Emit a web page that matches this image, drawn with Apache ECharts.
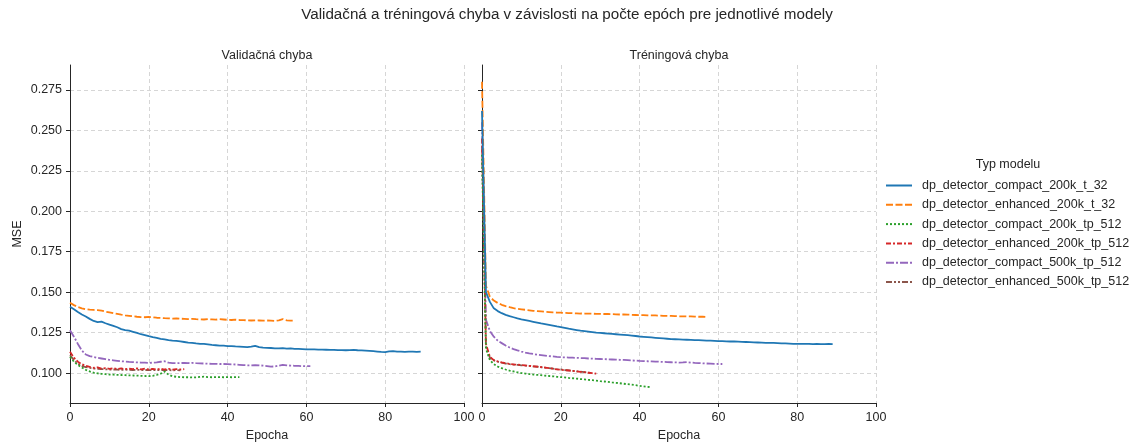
<!DOCTYPE html>
<html>
<head>
<meta charset="utf-8">
<script src="https://cdn.jsdelivr.net/npm/echarts@6/dist/echarts.min.js"></script>
<style>
html,body{margin:0;padding:0;background:#fff;}
#chart{width:1135px;height:443px;}
</style>
</head>
<body>
<div id="chart"></div>
<script>
// ---------- DATA ----------
const seriesNames = [
  'dp_detector_compact_200k_t_32',
  'dp_detector_enhanced_200k_t_32',
  'dp_detector_compact_200k_tp_512',
  'dp_detector_enhanced_200k_tp_512',
  'dp_detector_compact_500k_tp_512',
  'dp_detector_enhanced_500k_tp_512'
];
const panelTitles = ['Validačná chyba', 'Tréningová chyba'];
const mainTitle = 'Validačná a tréningová chyba v závislosti na počte epóch pre jednotlivé modely';
const xTicks = [0, 20, 40, 60, 80, 100];
const yTicks = [0.100, 0.125, 0.150, 0.175, 0.200, 0.225, 0.250, 0.275];

// Validation error (one value per epoch, starting at epoch 0)
const valCompact200kT32 = [
  0.1410,0.1395,0.1378,0.1362,0.1350,0.1335,0.1322,0.1315,0.1318,0.1308,
  0.1300,0.1292,0.1283,0.1272,0.1265,0.1262,0.1255,0.1248,0.1240,0.1235,
  0.1228,0.1222,0.1218,0.1212,0.1208,0.1203,0.1200,0.1199,0.1196,0.1192,
  0.1188,0.1186,0.1183,0.1181,0.1180,0.1177,0.1174,0.1172,0.1170,0.1169,
  0.1167,0.1167,0.1165,0.1164,0.1162,0.1160,0.1163,0.1168,0.1160,0.1157,
  0.1156,0.1155,0.1153,0.1152,0.1154,0.1151,0.1153,0.1150,0.1149,0.1148,
  0.1147,0.1146,0.1146,0.1145,0.1145,0.1144,0.1143,0.1143,0.1142,0.1142,
  0.1141,0.1142,0.1143,0.1141,0.1140,0.1139,0.1137,0.1135,0.1133,0.1131,
  0.1130,0.1134,0.1135,0.1132,0.1133,0.1131,0.1132,0.1132,0.1131,0.1132
];
const valEnhanced200kT32 = [
  0.1435,0.1420,0.1408,0.1400,0.1395,0.1392,0.1390,0.1389,0.1386,0.1380,
  0.1375,0.1370,0.1366,0.1361,0.1357,0.1354,0.1351,0.1348,0.1346,0.1345,
  0.1347,0.1345,0.1342,0.1341,0.1339,0.1338,0.1337,0.1338,0.1336,0.1335,
  0.1334,0.1335,0.1333,0.1332,0.1331,0.1333,0.1332,0.1330,0.1333,0.1331,
  0.1329,0.1328,0.1330,0.1328,0.1327,0.1326,0.1325,0.1326,0.1325,0.1324,
  0.1325,0.1324,0.1323,0.1326,0.1334,0.1326,0.1324,0.1324
];
const valCompact200kTp512 = [
  0.1100,0.1070,0.1050,0.1035,0.1020,0.1010,0.1003,0.0998,0.0995,0.0993,
  0.0991,0.0990,0.0989,0.0988,0.0987,0.0986,0.0985,0.0984,0.0983,0.0982,
  0.0981,0.0983,0.0988,0.0996,0.1010,0.0990,0.0980,0.0977,0.0975,0.0974,
  0.0974,0.0973,0.0974,0.0976,0.0978,0.0975,0.0974,0.0975,0.0975,0.0974,
  0.0975,0.0974,0.0975,0.0975
];
const valEnhanced200kTp512 = [
  0.1132,0.1095,0.1070,0.1055,0.1045,0.1038,0.1032,0.1035,0.1028,0.1031,
  0.1026,0.1030,0.1025,0.1029,0.1024,0.1028,0.1024,0.1029,0.1023,0.1027,
  0.1022,0.1026,0.1021,0.1027,0.1022,0.1026,0.1021,0.1025,0.1022,0.1024
];
const valCompact500kTp512 = [
  0.1265,0.1225,0.1180,0.1140,0.1115,0.1105,0.1099,0.1094,0.1090,0.1086,
  0.1082,0.1079,0.1076,0.1073,0.1071,0.1069,0.1068,0.1066,0.1065,0.1064,
  0.1063,0.1064,0.1066,0.1070,0.1073,0.1064,0.1062,0.1061,0.1062,0.1063,
  0.1062,0.1063,0.1061,0.1060,0.1059,0.1058,0.1057,0.1057,0.1056,0.1056,
  0.1055,0.1054,0.1053,0.1051,0.1049,0.1048,0.1048,0.1049,0.1048,0.1046,
  0.1043,0.1040,0.1041,0.1046,0.1051,0.1048,0.1046,0.1045,0.1044,0.1043,
  0.1043,0.1043
];
const valEnhanced500kTp512 = [
  0.1110,0.1080,0.1058,0.1045,0.1037,0.1032,0.1028,0.1026,0.1025,0.1023,
  0.1022,0.1022,0.1021,0.1020,0.1021,0.1020,0.1019,0.1020,0.1019,0.1019,
  0.1018,0.1019,0.1018,0.1018,0.1019,0.1018,0.1017,0.1018,0.1017
];

// Training error (one value per epoch, starting at epoch 0)
const trCompact200kT32 = [
  0.2620,0.1500,0.1440,0.1400,0.1383,0.1370,0.1360,0.1352,0.1345,0.1338,
  0.1332,0.1327,0.1322,0.1317,0.1312,0.1307,0.1303,0.1298,0.1293,0.1288,
  0.1284,0.1279,0.1274,0.1270,0.1266,0.1262,0.1259,0.1256,0.1253,0.1250,
  0.1248,0.1246,0.1244,0.1242,0.1240,0.1238,0.1236,0.1234,0.1232,0.1229,
  0.1226,0.1224,0.1222,0.1220,0.1218,0.1216,0.1214,0.1212,0.1210,0.1209,
  0.1208,0.1207,0.1206,0.1205,0.1204,0.1203,0.1202,0.1201,0.1200,0.1199,
  0.1198,0.1197,0.1196,0.1195,0.1195,0.1194,0.1193,0.1192,0.1191,0.1190,
  0.1189,0.1188,0.1187,0.1186,0.1186,0.1185,0.1184,0.1183,0.1182,0.1181,
  0.1181,0.1180,0.1180,0.1181,0.1179,0.1180,0.1179,0.1179,0.1180,0.1179
];
const trEnhanced200kT32 = [
  0.2800,0.1540,0.1472,0.1448,0.1433,0.1422,0.1414,0.1407,0.1401,0.1397,
  0.1394,0.1391,0.1388,0.1385,0.1383,0.1381,0.1379,0.1377,0.1375,0.1374,
  0.1373,0.1372,0.1371,0.1370,0.1369,0.1368,0.1368,0.1367,0.1367,0.1366,
  0.1366,0.1365,0.1365,0.1364,0.1363,0.1362,0.1362,0.1361,0.1360,0.1359,
  0.1358,0.1358,0.1357,0.1356,0.1356,0.1355,0.1354,0.1354,0.1353,0.1352,
  0.1351,0.1351,0.1350,0.1350,0.1349,0.1348,0.1348,0.1347
];
const trCompact200kTp512 = [
  0.2350,0.1150,0.1080,0.1055,0.1040,0.1030,0.1022,0.1015,0.1010,0.1005,
  0.1000,0.0997,0.0994,0.0991,0.0989,0.0987,0.0984,0.0982,0.0980,0.0977,
  0.0975,0.0973,0.0970,0.0968,0.0966,0.0963,0.0961,0.0958,0.0956,0.0953,
  0.0950,0.0948,0.0945,0.0942,0.0940,0.0937,0.0934,0.0931,0.0928,0.0925,
  0.0921,0.0918,0.0915,0.0913
];
const trEnhanced200kTp512 = [
  0.2450,0.1180,0.1100,0.1080,0.1072,0.1066,0.1061,0.1057,0.1054,0.1052,
  0.1050,0.1047,0.1045,0.1042,0.1040,0.1037,0.1034,0.1031,0.1027,0.1023,
  0.1020,0.1018,0.1016,0.1013,0.1011,0.1008,0.1005,0.1002,0.0999,0.0996
];
const trCompact500kTp512 = [
  0.2550,0.1330,0.1260,0.1225,0.1200,0.1185,0.1170,0.1158,0.1148,0.1140,
  0.1133,0.1127,0.1122,0.1118,0.1114,0.1111,0.1108,0.1105,0.1103,0.1100,
  0.1098,0.1097,0.1096,0.1095,0.1094,0.1093,0.1092,0.1090,0.1089,0.1088,
  0.1087,0.1086,0.1085,0.1084,0.1083,0.1082,0.1081,0.1080,0.1078,0.1077,
  0.1075,0.1074,0.1073,0.1072,0.1071,0.1070,0.1069,0.1068,0.1067,0.1066,
  0.1065,0.1066,0.1068,0.1065,0.1063,0.1062,0.1060,0.1059,0.1058,0.1057,
  0.1056,0.1056
];
const trEnhanced500kTp512 = [
  0.2400,0.1170,0.1095,0.1078,0.1070,0.1064,0.1059,0.1055,0.1052,0.1050,
  0.1048,0.1046,0.1044,0.1041,0.1039,0.1036,0.1033,0.1030,0.1027,0.1024,
  0.1022,0.1019,0.1017,0.1014,0.1011,0.1009,0.1006,0.1003,0.1000
];

const valSets = [valCompact200kT32, valEnhanced200kT32, valCompact200kTp512, valEnhanced200kTp512, valCompact500kTp512, valEnhanced500kTp512];
const trSets  = [trCompact200kT32, trEnhanced200kT32, trCompact200kTp512, trEnhanced200kTp512, trCompact500kTp512, trEnhanced500kTp512];

// ---------- STYLE ----------
const colors = ['#1f77b4', '#ff7f0e', '#2ca02c', '#d62728', '#9467bd', '#8c564b'];
const dashes = ['solid', [7, 2.5], [2, 2], [5, 2, 2, 2], [8, 2, 2, 2], [6, 2, 2, 2, 2, 2]];
const FONT = '"Liberation Sans", Arial, sans-serif';
const TXT = '#262626';
const FS = 12.5;

const yMin = 0.0815, yMax = 0.2904;

function toPairs(arr) { return arr.map((v, i) => [i, v]); }

const grids = [
  { left: 70, top: 65, width: 394, height: 338, outerBoundsMode: 'none', containLabel: false },
  { left: 482, top: 65, width: 394, height: 338, outerBoundsMode: 'none', containLabel: false }
];

const xAxes = [0, 1].map(g => ({
  type: 'value', gridIndex: g, min: 0, max: 100, interval: 20,
  name: 'Epocha', nameLocation: 'middle', nameGap: 26,
  nameTextStyle: { color: TXT, fontSize: FS, fontFamily: FONT },
  axisLine: { show: true, lineStyle: { color: TXT, width: 1 } },
  axisTick: { show: true, length: 4, lineStyle: { color: TXT }, customValues: xTicks },
  axisLabel: { color: TXT, fontSize: FS, fontFamily: FONT, margin: 8, customValues: xTicks },
  splitLine: { show: true, lineStyle: { color: '#cccccc', type: [4, 3], width: 0.8 } }
}));

const yAxes = [0, 1].map(g => ({
  type: 'value', gridIndex: g, min: yMin, max: yMax,
  name: g === 0 ? 'MSE' : '', nameLocation: 'middle', nameGap: 46,
  nameTextStyle: { color: TXT, fontSize: FS, fontFamily: FONT },
  axisLine: { show: true, lineStyle: { color: TXT, width: 1 } },
  axisTick: { show: true, length: 4, lineStyle: { color: TXT }, customValues: yTicks },
  axisLabel: { show: g === 0, color: TXT, fontSize: FS, fontFamily: FONT, margin: 8,
    customValues: yTicks, formatter: v => v.toFixed(3) },
  splitLine: { show: true, lineStyle: { color: '#cccccc', type: [4, 3], width: 0.8 } }
}));

const series = [];
[valSets, trSets].forEach((sets, g) => {
  sets.forEach((arr, i) => {
    series.push({
      type: 'line', name: seriesNames[i], xAxisIndex: g, yAxisIndex: g,
      data: toPairs(arr), symbol: 'none', showSymbol: false, smooth: false,
      lineStyle: { color: colors[i], width: 1.8, type: dashes[i] },
      itemStyle: { color: colors[i] },
      z: 10 - i
    });
  });
});

const chart = echarts.init(document.getElementById('chart'), null, { renderer: 'canvas' });
chart.setOption({
  animation: false,
  backgroundColor: '#ffffff',
  textStyle: { fontFamily: FONT },
  title: [
    { text: mainTitle, left: 562, top: 2, textAlign: 'center',
      textStyle: { color: TXT, fontSize: 15.2, fontWeight: 'normal', fontFamily: FONT } },
    { text: panelTitles[0], left: 262, top: 44, textAlign: 'center',
      textStyle: { color: TXT, fontSize: FS, fontWeight: 'normal', fontFamily: FONT } },
    { text: panelTitles[1], left: 674, top: 44, textAlign: 'center',
      textStyle: { color: TXT, fontSize: FS, fontWeight: 'normal', fontFamily: FONT } },
    { text: 'Typ modelu', left: 1003, top: 153, textAlign: 'center',
      textStyle: { color: TXT, fontSize: FS, fontWeight: 'normal', fontFamily: FONT } }
  ],
  legend: {
    orient: 'vertical', left: 885, top: 179, padding: 0,
    itemWidth: 26, itemHeight: 14, itemGap: 6.3,
    itemStyle: { opacity: 0 },
    data: seriesNames,
    textStyle: { color: TXT, fontSize: FS, fontFamily: FONT, padding: [0, 0, 0, 5] }
  },
  grid: grids,
  xAxis: xAxes,
  yAxis: yAxes,
  series: series
});
</script>
</body>
</html>
